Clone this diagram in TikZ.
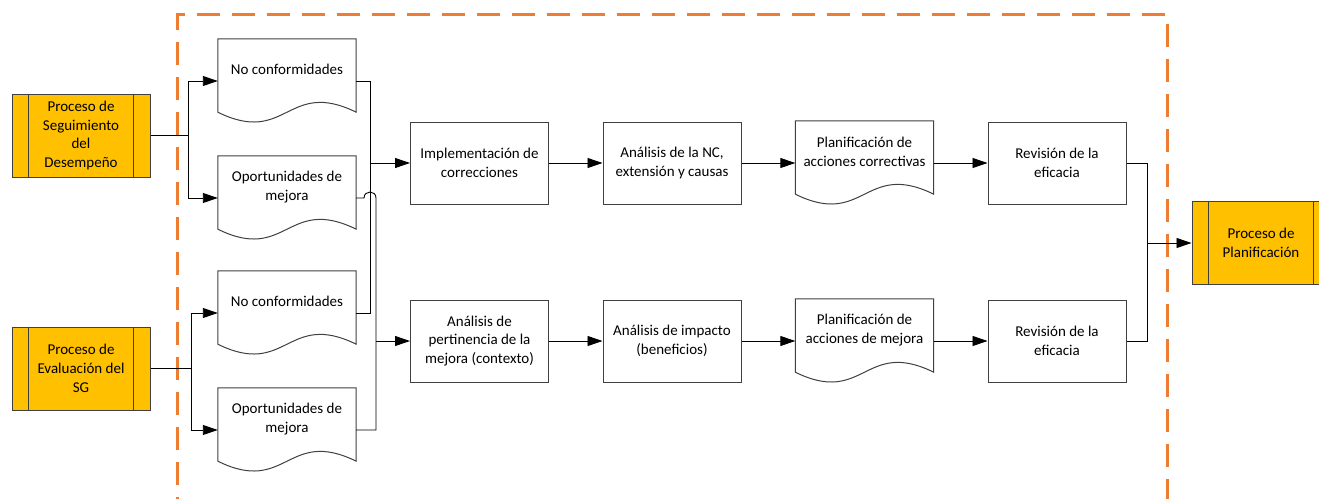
\documentclass[tikz,border=0pt]{standalone}
\usepackage{fontspec}
\setmainfont{Carlito}
\usetikzlibrary{arrows.meta}
\definecolor{procfill}{HTML}{FFC000}
\definecolor{dashorange}{HTML}{ED7D31}
\definecolor{edgegray}{HTML}{404040}
\newcommand\mydoc[3]{%
  \node[docbox] (#1) at #2 {};
  \path[docline] (#1.north west) -- (#1.north east) -- ([yshift=11]#1.south east)
     .. controls ([yshift=45]#1.south) and ([yshift=-23]#1.south) .. ([yshift=11]#1.south west) -- cycle;
  \node (#1-t) at ([yshift=-31]#1.north) {#3};
}
\newcommand\myproc[3]{%
  \node[procbox] (#1) at #2 {#3};
  \draw[edgegray, line width=1pt] ([xshift=17]#1.north west) -- ([xshift=17]#1.south west)
        ([xshift=-17]#1.north east) -- ([xshift=-17]#1.south east);
}
\begin{document}
\begin{tikzpicture}[x=1pt,y=-1pt,
  every node/.style={font=\fontsize{15}{18.7}\selectfont, align=center, inner sep=0pt},
  procbox/.style={draw=edgegray, fill=procfill, line width=1pt, minimum width=138pt, minimum height=83pt},
  taskbox/.style={draw=edgegray, fill=white, line width=1pt, minimum width=138pt, minimum height=82pt},
  docbox/.style={minimum width=138pt, minimum height=84pt},
  docline/.style={draw=edgegray, fill=white, line width=1pt},
  conn/.style={draw=black, line width=0.9pt},
  arr/.style={conn, -{Triangle[length=15pt,width=10pt]}},
  dashframe/.style={draw=dashorange, line width=3pt, dash pattern=on 23pt off 12pt}
]
\clip (0,0) rectangle (1319,498);
\fill[white] (0,0) rectangle (1319,498);

% dashed frame
\draw[dashframe] (177,520) -- (177,14.5) -- (1167,14.5) -- (1167,520);

% processes
\myproc{p1}{(81,135.5)}{Proceso de\\Seguimiento\\del\\Desempeño}
\myproc{p2}{(81,368.5)}{Proceso de\\Evaluación del\\SG}
\myproc{p3}{(1261,243)}{Proceso de\\Planificación}

% documents
\mydoc{d1}{(287,81)}{No conformidades}
\mydoc{d2}{(287,198)}{Oportunidades de\\mejora}
\mydoc{d3}{(287,313)}{No conformidades}
\mydoc{d4}{(287,430)}{Oportunidades de\\mejora}

% top row
\node[taskbox] (impl) at (479.5,163) {Implementación de\\correcciones};
\node[taskbox] (annc) at (672,163) {Análisis de la NC,\\extensión y causas};
\mydoc{plc}{(864.5,163)}{Planificación de\\acciones correctivas}
\node[taskbox] (rev1) at (1057,163) {Revisión de la\\eficacia};

% bottom row
\node[taskbox] (pert) at (479.5,341) {Análisis de\\pertinencia de la\\mejora (contexto)};
\node[taskbox] (aimp) at (672,341) {Análisis de impacto\\(beneficios)};
\mydoc{plm}{(864.5,341)}{Planificación de\\acciones de mejora}
\node[taskbox] (rev2) at (1057,341) {Revisión de la\\eficacia};

% junction coordinates
\coordinate (j1) at (188,0);
\coordinate (j2) at (191,0);
\coordinate (v1) at (370,0);
\coordinate (jA) at (364,198);
\coordinate (jB) at (376,198);
\coordinate (v3) at (1147,0);

% splits from processes
\draw[arr] (p1.east) -- (p1.east -| j1) |- (d1.west);
\draw[arr] (p1.east -| j1) |- (d2.west);
\draw[arr] (p2.east) -- (p2.east -| j2) |- (d3.west);
\draw[arr] (p2.east -| j2) |- (d4.west);

% merges from documents
\draw[conn] (d1.east) -| (v1 |- d3.east) -- (d3.east);
\draw[arr] (v1 |- impl.west) -- (impl.west);
\draw[conn] (d2.east) -- (jA) .. controls ([yshift=8]jA) and ([yshift=8]jB) .. (jB) -- (jB |- d4.east) -- (d4.east);
\draw[arr] (jB |- pert.west) -- (pert.west);

% rows
\draw[arr] (impl.east) -- (annc.west);
\draw[arr] (annc.east) -- (plc.west);
\draw[arr] (plc.east) -- (rev1.west);
\draw[arr] (pert.east) -- (aimp.west);
\draw[arr] (aimp.east) -- (plm.west);
\draw[arr] (plm.east) -- (rev2.west);

% to planning
\draw[conn] (rev1.east) -| (v3 |- rev2.east) -- (rev2.east);
\draw[arr] (v3 |- p3.west) -- (p3.west);
\end{tikzpicture}
\end{document}
